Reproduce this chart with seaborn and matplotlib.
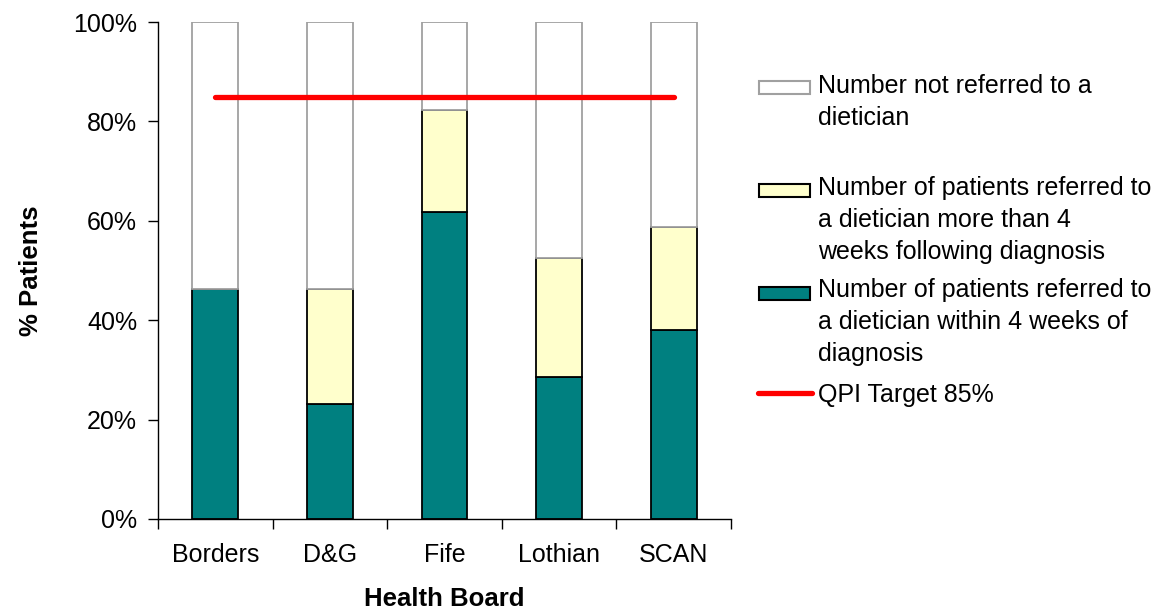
import numpy as np
import matplotlib
matplotlib.use("Agg")
import matplotlib.pyplot as plt
import seaborn as sns
from matplotlib.patches import Rectangle
from matplotlib.lines import Line2D

# Percentage of patients per health board
boards = ["Borders", "D&G", "Fife", "Lothian", "SCAN"]
within_4_weeks = [46.2, 23.1, 61.8, 28.6, 38.0]
after_4_weeks = [0.0, 23.1, 20.5, 23.9, 20.8]
not_referred = [53.8, 53.8, 17.7, 47.5, 41.2]
qpi_target = [85, 85, 85, 85, 85]
y_ticks = [0, 20, 40, 60, 80, 100]

legend_labels = [
    "Number not referred to a\ndietician",
    "Number of patients referred to\na dietician more than 4\nweeks following diagnosis",
    "Number of patients referred to\na dietician within 4 weeks of\ndiagnosis",
    "QPI Target 85%",
]

sns.set_theme(style="white")
plt.rcParams["font.family"] = ["Liberation Sans", "DejaVu Sans"]
plt.rcParams["text.color"] = "black"
plt.rcParams["axes.labelcolor"] = "black"
plt.rcParams["xtick.color"] = "black"
plt.rcParams["ytick.color"] = "black"

TEAL = "#008080"
CREAM = "#FFFFCC"
GREY = "#A0A0A0"
RED = "#FF0000"
FS = 18

W, H = 1156, 610
fig = plt.figure(figsize=(W / 100, H / 100), dpi=100)
ax = fig.add_axes([158 / W, 1 - 519 / H, (731 - 158) / W, (519 - 22) / H])

lower = np.array(within_4_weeks)
middle = np.array(after_4_weeks)
upper = np.array(not_referred)

bar_kw = dict(width=0.4, saturation=1, errorbar=None, ax=ax, linewidth=1.3)
sns.barplot(x=boards, y=lower, color=TEAL, edgecolor="black", **bar_kw)
sns.barplot(x=boards, y=middle, bottom=lower, color=CREAM, edgecolor="black", **bar_kw)
sns.barplot(x=boards, y=upper, bottom=lower + middle, color="white", edgecolor=GREY, **bar_kw)

sns.lineplot(x=np.arange(len(boards)), y=qpi_target, color=RED, linewidth=3.8,
             solid_capstyle="round", ax=ax, zorder=5)

ax.set_xlim(-0.5, len(boards) - 0.5)
ax.set_ylim(0, 100)
ax.set_yticks(y_ticks)
ax.set_yticklabels([f"{t}%" for t in y_ticks])
ax.set_xticks(np.arange(len(boards)))
ax.set_xticklabels(boards)
ax.set_xticks(np.arange(len(boards) + 1) - 0.5, minor=True)

ax.tick_params(axis="y", which="major", direction="out", length=7, width=1,
               color="black", labelsize=FS, pad=8, left=True, labelcolor="black")
ax.tick_params(axis="x", which="major", length=0, labelsize=FS, pad=17, bottom=False,
               labelcolor="black")
ax.tick_params(axis="x", which="minor", direction="out", length=7, width=1,
               color="black", bottom=True)

for side in ("top", "right"):
    ax.spines[side].set_visible(False)
for side in ("left", "bottom"):
    ax.spines[side].set_color("black")
    ax.spines[side].set_linewidth(1)

ax.set_xlabel("Health Board", fontsize=18.5, fontweight="bold", labelpad=15, color="black")
ax.set_ylabel("% Patients", fontsize=18.5, fontweight="bold", labelpad=22, color="black")
ax.grid(False)

# Legend drawn in figure pixel space
def px_rect(x0, y0, w, h, face, edge):
    fig.add_artist(Rectangle((x0 / W, 1 - (y0 + h) / H), w / W, h / H,
                             transform=fig.transFigure, facecolor=face,
                             edgecolor=edge, linewidth=1.5))

px_rect(759, 81, 51, 13, "white", GREY)
px_rect(759, 184, 51, 13, CREAM, "black")
px_rect(759, 287, 51, 13, TEAL, "black")
fig.add_artist(Line2D([758 / W, 812 / W], [1 - 393 / H, 1 - 393 / H],
                      transform=fig.transFigure, color=RED, linewidth=3.8,
                      solid_capstyle="round"))

text_centers = [102, 220, 322, 395]
for label, yc in zip(legend_labels, text_centers):
    fig.text(818 / W, 1 - yc / H, label, fontsize=FS, va="center", ha="left",
             linespacing=1.44, color="black")

fig.savefig("out.png", dpi=100)
